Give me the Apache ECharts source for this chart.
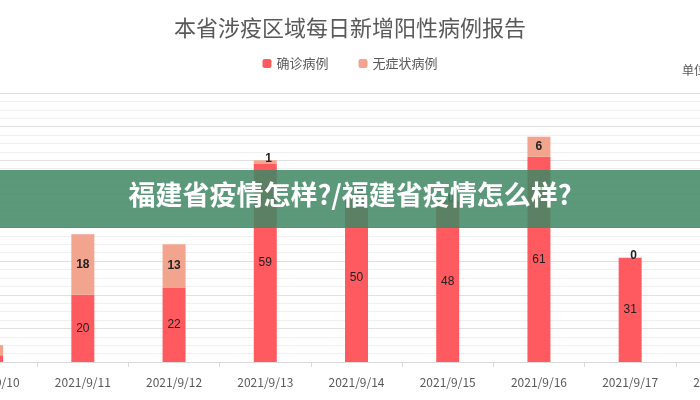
<!DOCTYPE html>
<html><head><meta charset="utf-8">
<script src="https://cdn.jsdelivr.net/npm/echarts@6/dist/echarts.min.js"></script>
<style>html,body{margin:0;background:#fff}#main{width:700px;height:400px}</style>
</head><body>
<div id="main"></div>
<script>
// 数据
var days = ['2021/9/10','2021/9/11','2021/9/12','2021/9/13','2021/9/14','2021/9/15','2021/9/16','2021/9/17','2021/9/18'];
var confirmed = [2, 20, 22, 59, 50, 48, 61, 31, 30];
var asymptomatic = [3, 18, 13, 1, 0, 0, 6, 0, 0];

var font = '"Microsoft YaHei","Noto Sans CJK SC",sans-serif';
var chart = echarts.init(document.getElementById('main'));
chart.setOption({
  animation: false,
  title: {
    text: '本省涉疫区域每日新增阳性病例报告', left: 'center', top: 12,
    textStyle: {fontSize: 22, fontWeight: 'normal', color: '#595959', fontFamily: font}
  },
  legend: {
    top: 52, left: 'center', itemWidth: 9, itemHeight: 9, itemGap: 30,
    textStyle: {fontSize: 13, color: '#595959', fontFamily: font},
    data: ['确诊病例', '无症状病例']
  },
  grid: {left: -54, right: -67, top: 93, bottom: 38, containLabel: false, outerBoundsMode: 'none'},
  xAxis: {
    type: 'category', data: days,
    axisLine: {lineStyle: {color: '#d9d9d9'}},
    axisTick: {show: true, lineStyle: {color: '#d9d9d9'}},
    axisLabel: {fontSize: 12, color: '#595959', margin: 14, fontFamily: font}
  },
  yAxis: {
    type: 'value', min: 0, max: 80, interval: 10,
    axisLabel: {show: false},
    splitLine: {lineStyle: {color: '#e0e0e0'}},
    minorTick: {show: true, splitNumber: 4},
    minorSplitLine: {show: true, lineStyle: {color: '#f0f0f0'}}
  },
  series: [
    {
      name: '确诊病例', type: 'bar', stack: 'a', data: confirmed, barWidth: 23,
      itemStyle: {color: '#ff5a5f'},
      label: {show: true, position: 'inside', color: '#222', fontSize: 12,
        formatter: function (p) { return p.value >= 10 ? p.value : ''; }}
    },
    {
      name: '无症状病例', type: 'bar', stack: 'a', data: asymptomatic, barWidth: 23,
      itemStyle: {color: '#f3a48f'},
      label: {show: true, color: '#222', fontSize: 12, fontWeight: 'bold',
        position: 'inside',
        formatter: function (p) { return p.dataIndex === 0 ? '' : p.value; }},
      labelLayout: function (p) {
        if (p.rect.height < 14) return {y: p.rect.y - 8};
      }
    }
  ],
  graphic: [
    {type: 'text', left: 682, top: 64, style: {text: '单位：例', fill: '#595959', font: '12px ' + font}},
    {type: 'rect', left: 0, top: 170, shape: {width: 700, height: 58},
      style: {fill: 'rgba(64,135,100,0.85)'}, z: 100},
    {type: 'text', left: 'center', top: 181, z: 101,
      style: {text: '福建省疫情怎样?/福建省疫情怎么样?', fill: '#fff', font: 'bold 27px ' + font}}
  ]
});
</script>
</body></html>
